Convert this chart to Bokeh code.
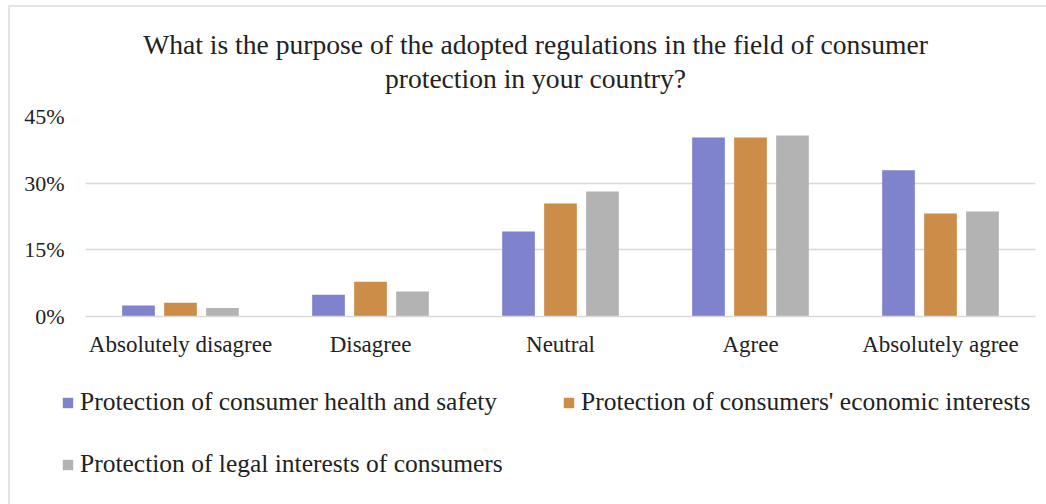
from bokeh.plotting import figure
from bokeh.models import (FactorRange, Range1d, FixedTicker, PrintfTickFormatter,
                          Legend, LegendItem, Label, ColumnDataSource, InlineStyleSheet)
from bokeh.layouts import column
from bokeh.transform import dodge
from bokeh.embed import file_html
from bokeh.resources import INLINE

categories = ["Absolutely disagree", "Disagree", "Neutral", "Agree", "Absolutely agree"]
series_names = ["Protection of consumer health and safety",
                "Protection of consumers' economic interests",
                "Protection of legal interests of consumers"]
health_safety = [2.5, 4.9, 19.1, 40.3, 32.9]
economic = [3.1, 7.8, 25.4, 40.3, 23.2]
legal = [1.9, 5.6, 28.1, 40.7, 23.6]
y_ticks = [0, 15, 30, 45]
title_lines = ["What is the purpose of the adopted regulations in the field of consumer",
               "protection in your country?"]

colors = ["#7f82cc", "#cb8d47", "#b3b3b3"]
FONT = "Liberation Serif"
TXT = "#222222"


def strip(height):
    f = figure(width=1046, height=height, x_range=Range1d(0, 1046), y_range=Range1d(height, 0),
               output_backend="svg", toolbar_location=None,
               min_border_left=0, min_border_right=0, min_border_top=0, min_border_bottom=0)
    f.title = None
    f.axis.visible = False
    f.grid.visible = False
    f.outline_line_color = None
    f.background_fill_color = "white"
    f.border_fill_color = "white"
    f.frame_align = False
    return f


# ---- title strip
tf = strip(100)
tf.add_layout(Label(x=535, y=44, text=title_lines[0], text_align="center",
                    text_baseline="alphabetic", text_font=FONT, text_font_size="27.6px",
                    text_color=TXT))
tf.add_layout(Label(x=535, y=78, text=title_lines[1], text_align="center",
                    text_baseline="alphabetic", text_font=FONT, text_font_size="27.6px",
                    text_color=TXT))

# ---- main chart
src = ColumnDataSource(dict(cat=categories, s0=health_safety, s1=economic, s2=legal))

p = figure(width=1046, height=280, x_range=FactorRange(*categories, range_padding=0),
           y_range=Range1d(0, 45), output_backend="svg", toolbar_location=None,
           min_border_left=85, min_border_right=11, min_border_top=16, min_border_bottom=64)
p.title = None
p.outline_line_color = None
p.background_fill_color = "white"
p.border_fill_color = "white"
p.frame_align = False

offsets = [-0.221, 0.0, 0.221]
for i, key in enumerate(["s0", "s1", "s2"]):
    p.vbar(x=dodge("cat", offsets[i], range=p.x_range), top=key, bottom=0,
           width=0.172, source=src, fill_color=colors[i], line_color=None)

p.xgrid.grid_line_color = None
p.ygrid.grid_line_color = "#d9d9d9"
p.ygrid.grid_line_width = 1.5
p.yaxis.ticker = FixedTicker(ticks=y_ticks)
p.yaxis.formatter = PrintfTickFormatter(format="%d%%")
p.yaxis.axis_line_color = None
p.yaxis.major_tick_line_color = None
p.yaxis.minor_tick_line_color = None
p.yaxis.major_label_standoff = 15
p.yaxis.major_label_text_font = FONT
p.yaxis.major_label_text_font_size = "22px"
p.yaxis.major_label_text_color = TXT

p.xaxis.axis_line_color = "#d9d9d9"
p.xaxis.axis_line_width = 1.5
p.xaxis.major_tick_line_color = None
p.xaxis.minor_tick_line_color = None
p.xaxis.major_label_standoff = 9
p.xaxis.major_label_text_font = FONT
p.xaxis.major_label_text_font_size = "23px"
p.xaxis.major_label_text_color = TXT

# ---- legend strip
lg = strip(124)
key_src = ColumnDataSource(dict(x=[0], top=[0]))  # zero-height keys, only for legend swatches
keys = [lg.vbar(x="x", top="top", bottom=0, width=0, source=key_src,
                fill_color=colors[i], line_color=None) for i in range(3)]

legend = Legend(items=[LegendItem(label=series_names[i], renderers=[keys[i]]) for i in range(3)],
                location=(61, 25), orientation="horizontal", ncols=2,
                glyph_width=13, glyph_height=13, label_standoff=6, label_width=450,
                spacing=32, padding=0, margin=0, border_line_color=None,
                background_fill_alpha=0, label_text_font=FONT, label_text_font_size="25.5px",
                label_text_color=TXT)
lg.add_layout(legend, "center")

layout = column(tf, p, lg, spacing=0)
frame_css = InlineStyleSheet(css="""
:host { position: relative; }
:host::after {
  content: ""; position: absolute; left: 8px; top: 5px; right: -10px; bottom: -10px;
  border: 2px solid #e4e4e4; pointer-events: none;
}
""")
layout.stylesheets = [frame_css]
open("out.html", "w").write(file_html(layout, INLINE))
